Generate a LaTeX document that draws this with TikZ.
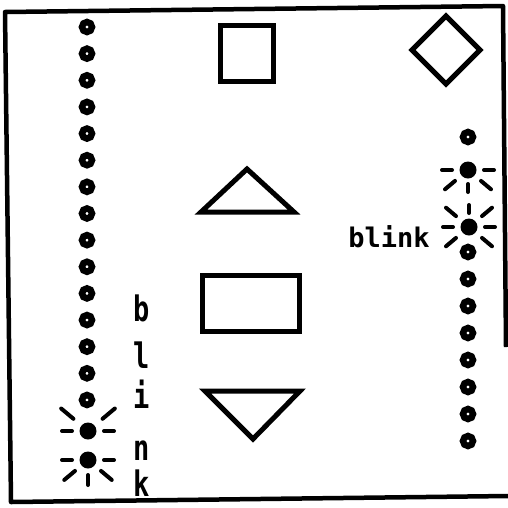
\documentclass[tikz,border=0pt]{standalone}
\usepackage{fontspec}
\setmonofont{DejaVu Sans Mono}
\usepackage{graphicx}
\usepackage{tikz}
\usetikzlibrary{calc}

% angles run clockwise here (y points down): 90 = below, 270 = above
\newcommand{\burst}[2]{%
  \foreach \a/\ra/\rb in {#2}
    \draw[ray] ($(#1)+(\a:\ra)$) -- ($(#1)+(\a:\rb)$);}

\begin{document}
\begin{tikzpicture}[x=1pt, y=-1pt,
  border/.style={line width=4.5pt, line join=round},
  outline/.style={line width=5pt, line join=miter},
  ring/.style={circle, draw, line width=6.5pt, minimum size=10pt, inner sep=0pt},
  lit/.style={circle, fill, minimum size=17pt, inner sep=0pt},
  ray/.style={line width=4pt, line cap=round},
  glyph/.style={font=\ttfamily\bfseries\fontsize{27}{27}\selectfont, inner sep=0pt, anchor=base}]
  \useasboundingbox (0,0) rectangle (508,507);
  \draw[border] (506,347) -- (503,6) -- (5,12) -- (11,502) -- (508,496);
  % shapes in the middle
  \draw[outline] (220,25) rectangle (273,81);
  \draw[outline] (412,50) -- (446,16) -- (480,50) -- (446,84) -- cycle;
  \draw[outline] (201,212) -- (247,169) -- (294,212) -- cycle;
  \draw[outline] (202,275) rectangle (299,331);
  \draw[outline] (205,391) -- (300,391) -- (253,439) -- cycle;
  % left column
  \foreach \i in {0,...,14}
    \node[ring] (L\i) at (87,{27+26.64*\i}) {};
  \node[lit] (La) at (88,431) {};
  \node[lit] (Lb) at (88,460) {};
  \burst{La}{220/19/35, 320/19/35, 180/16/26, 0/16/26}
  \burst{Lb}{180/16/26, 0/16/26, 140/17/31, 90/15/25, 40/17/31}
  \foreach \c/\y in {b/321, l/368, i/408, n/460, k/496}
    \node[glyph] (v\c) at (142,\y) {\scalebox{1}[1.3]{\c}};
  % right column
  \node[ring] (R0) at (468,137) {};
  \node[lit] (Ra) at (468,170) {};
  \node[lit] (Rb) at (469,227) {};
  \foreach \y [count=\i] in {252,279,...,441}
    \node[ring] (R\i) at (468,\y) {};
  \burst{Ra}{180/16/26, 0/16/26, 140/17/30, 90/14/22, 40/17/30}
  \burst{Rb}{220/17/30, 270/14/22, 320/17/30, 180/16/26, 0/16/26, 140/17/30, 40/17/30}
  \node[glyph] (word) at (389,247) {blink};
\end{tikzpicture}
\end{document}
